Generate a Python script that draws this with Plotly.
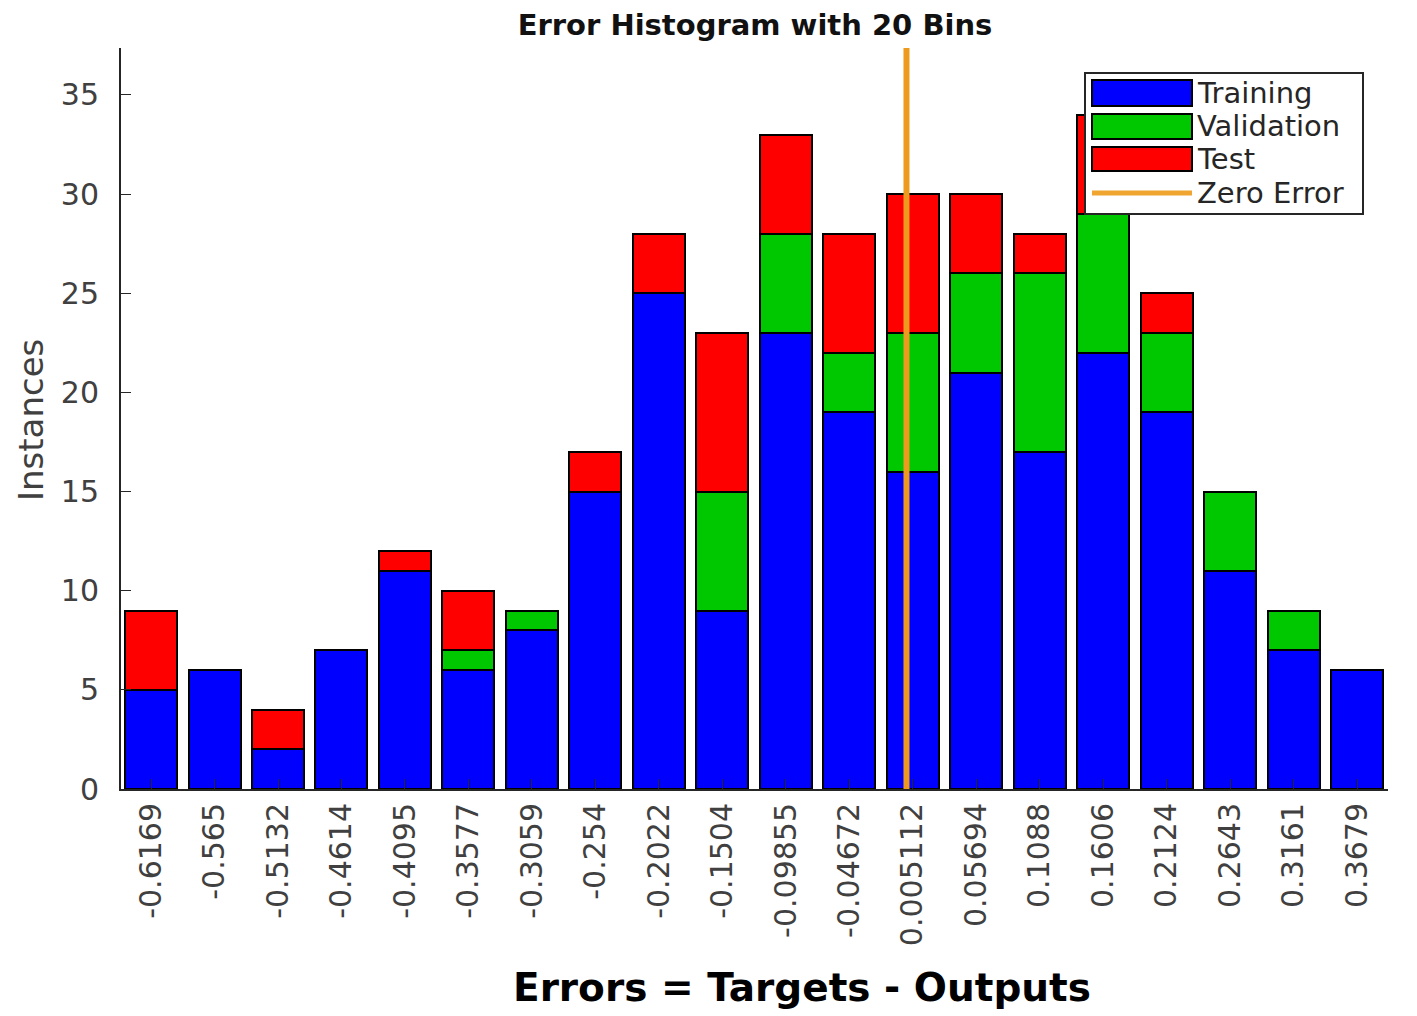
import plotly.graph_objects as go

# ---- data ----
bin_labels = ["-0.6169", "-0.565", "-0.5132", "-0.4614", "-0.4095", "-0.3577", "-0.3059",
              "-0.254", "-0.2022", "-0.1504", "-0.09855", "-0.04672", "0.005112", "0.05694",
              "0.1088", "0.1606", "0.2124", "0.2643", "0.3161", "0.3679"]
training   = [5, 6, 2, 7, 11, 6, 8, 15, 25, 9, 23, 19, 16, 21, 17, 22, 19, 11, 7, 6]
validation = [0, 0, 0, 0, 0, 1, 1, 0, 0, 6, 5, 3, 7, 5, 9, 7, 4, 4, 2, 0]
test       = [4, 0, 2, 0, 1, 3, 0, 2, 3, 8, 5, 6, 7, 4, 2, 5, 2, 0, 0, 0]
y_ticks = [0, 5, 10, 15, 20, 25, 30, 35]
zero_error = 0.0

bin_centers = [float(s) for s in bin_labels]

BLUE = "#0000FF"
GREEN = "#00C800"
RED = "#FF0000"
ORANGE = "#EE9A1E"
FONT = "DejaVu Sans"

# page has an 8px body margin: work in page pixels, convert to figure pixels
OFF = 8
W, H = 1417 - OFF, 1016 - OFF
L, R, T, B = 121, 1388, 48, 789   # plot area in page pixels


def px(xp):
    return (xp - L) / (R - L)


def py(yp):
    return (B - yp) / (B - T)


fig = go.Figure()
for name, vals, col in [("Training", training, BLUE),
                        ("Validation", validation, GREEN),
                        ("Test", test, RED)]:
    fig.add_trace(go.Bar(x=bin_centers, y=[v if v else None for v in vals], name=name,
                         marker=dict(color=col, line=dict(color="black", width=2)),
                         showlegend=False))

fig.add_trace(go.Scatter(x=[zero_error, zero_error], y=[0, 40], mode="lines",
                         line=dict(color=ORANGE, width=6), name="Zero Error",
                         showlegend=False))

# ---- custom legend (drawn above bars) ----
shapes = []
annotations = []
shapes.append(dict(type="rect", xref="paper", yref="paper",
                   x0=px(1085), x1=px(1363), y0=py(214), y1=py(73),
                   fillcolor="white", line=dict(color="#262626", width=2), layer="above"))
rows = [("Training", BLUE, 80, 106), ("Validation", GREEN, 114, 139), ("Test", RED, 147, 171)]
for name, col, y0, y1 in rows:
    shapes.append(dict(type="rect", xref="paper", yref="paper",
                       x0=px(1092), x1=px(1192), y0=py(y1), y1=py(y0),
                       fillcolor=col, line=dict(color="black", width=2), layer="above"))
    annotations.append(dict(text=name, xref="paper", yref="paper", x=px(1195), y=py((y0 + y1) / 2),
                            xanchor="left", yanchor="middle", showarrow=False,
                            font=dict(family=FONT, size=29, color="#262626")))
shapes.append(dict(type="line", xref="paper", yref="paper",
                   x0=px(1092), x1=px(1192), y0=py(193), y1=py(193),
                   line=dict(color="#F0A530", width=5), layer="above"))
annotations.append(dict(text="Zero Error", xref="paper", yref="paper", x=px(1195), y=py(193),
                        xanchor="left", yanchor="middle", showarrow=False,
                        font=dict(family=FONT, size=29, color="#262626")))

# axis titles
annotations.append(dict(text="<b>Errors = Targets - Outputs</b>", xref="paper", yref="paper",
                        x=px(802), y=py(987), xanchor="center", yanchor="middle", showarrow=False,
                        font=dict(family=FONT, size=39, color="black")))
annotations.append(dict(text="Instances", xref="paper", yref="paper",
                        x=px(31), y=py(420), xanchor="center", yanchor="middle", showarrow=False,
                        textangle=-90, font=dict(family=FONT, size=34, color="#404040")))

fig.update_layout(
    width=W, height=H,
    margin=dict(l=L - OFF, r=W - (R - OFF), t=T - OFF, b=H - (B - OFF), autoexpand=False),
    paper_bgcolor="white", plot_bgcolor="white",
    barmode="stack", bargap=0.18,
    font=dict(family=FONT, color="#404040"),
    title=dict(text="<b>Error Histogram with 20 Bins</b>", x=px(755), xref="paper",
               y=1 - (25 - OFF) / H, yref="container", xanchor="center", yanchor="middle",
               font=dict(family=FONT, size=29, color="#111111")),
    shapes=shapes, annotations=annotations,
)
fig.update_xaxes(range=[-0.6414, 0.3932], tickmode="array", tickvals=bin_centers,
                 ticktext=bin_labels, tickangle=-90, ticks="inside", ticklen=10,
                 tickcolor="#262626", showline=True, linecolor="#262626", linewidth=2,
                 showgrid=False, zeroline=False, ticklabelstandoff=0,
                 tickfont=dict(family=FONT, size=30, color="#404040"))
fig.update_yaxes(range=[0, 37.37], tickmode="array", tickvals=y_ticks,
                 ticks="inside", ticklen=10, tickcolor="#262626",
                 showline=True, linecolor="#262626", linewidth=2,
                 showgrid=False, zeroline=False, ticklabelstandoff=14,
                 tickfont=dict(family=FONT, size=30, color="#404040"))

fig.write_html("out.html")
